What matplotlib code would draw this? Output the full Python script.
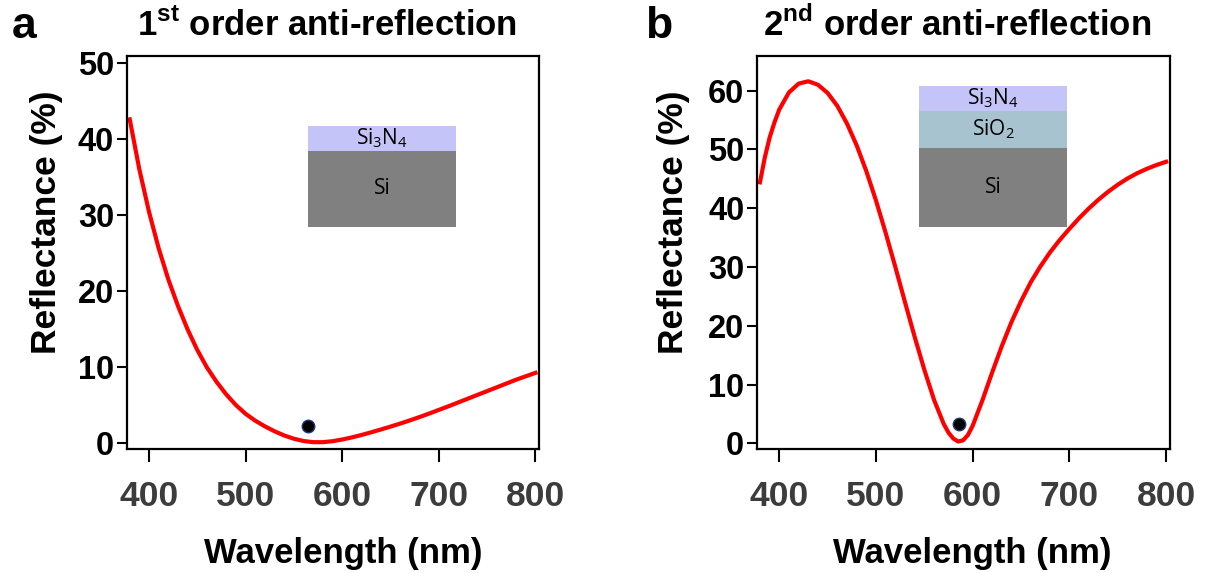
import numpy as np
import matplotlib
matplotlib.use("Agg")
import matplotlib.pyplot as plt
from matplotlib.patches import Rectangle

plt.rcParams['font.family'] = ['Liberation Sans', 'DejaVu Sans']
plt.rcParams['mathtext.fontset'] = 'custom'
plt.rcParams['mathtext.rm'] = 'Open Sans'
plt.rcParams['mathtext.bf'] = 'Liberation Sans:bold'

# panel a: single Si3N4 layer
wl_a = [380, 390, 400, 410, 420, 430, 440, 450, 460, 470, 480, 490, 500,
        510, 520, 530, 540, 550, 560, 570, 580, 590, 600, 610, 620, 630,
        640, 650, 660, 670, 680, 690, 700, 710, 720, 730, 740, 750, 760,
        770, 780, 790, 800]
refl_a = [42.6, 36.0, 30.4, 25.6, 21.5, 18.0, 14.9, 12.2, 9.9, 8.0, 6.35,
          4.95, 3.8, 2.9, 2.15, 1.5, 0.95, 0.52, 0.22, 0.07, 0.07, 0.2,
          0.42, 0.7, 1.02, 1.37, 1.74, 2.12, 2.52, 2.94, 3.38, 3.84, 4.32,
          4.8, 5.3, 5.8, 6.3, 6.8, 7.3, 7.8, 8.3, 8.75, 9.2]
meas_a = (565, 2.2)

# panel b: Si3N4 / SiO2 stack
wl_b = [380, 385, 390, 395, 400, 410, 420, 430, 440, 450, 460, 470, 480,
        490, 500, 510, 520, 530, 540, 550, 560, 570, 575, 580, 585, 590,
        595, 600, 610, 620, 630, 640, 650, 660, 670, 680, 690, 700, 710,
        720, 730, 740, 750, 760, 770, 780, 790, 800]
refl_b = [44.4, 48.6, 52.0, 54.6, 56.8, 59.7, 61.2, 61.6, 61.0, 59.6, 57.4,
          54.4, 50.7, 46.3, 41.3, 35.8, 30.0, 24.0, 18.1, 12.5, 7.4, 3.3,
          1.8, 0.8, 0.3, 0.5, 1.4, 3.0, 7.3, 12.0, 16.5, 20.6, 24.2, 27.4,
          30.1, 32.5, 34.6, 36.5, 38.3, 39.95, 41.45, 42.8, 44.0, 45.05,
          45.95, 46.7, 47.35, 47.9]
meas_b = (586, 3.3)

xticks = [400, 500, 600, 700, 800]
yticks_a = [0, 10, 20, 30, 40, 50]
yticks_b = [0, 10, 20, 30, 40, 50, 60]

fig = plt.figure(figsize=(12.19, 5.73), dpi=100)
ax1 = fig.add_axes([0.1038, 0.2164, 0.3386, 0.6859])
ax2 = fig.add_axes([0.6208, 0.2159, 0.3390, 0.6864])


def style(ax, yticks, ylim):
    ax.set_xlim(376.7, 804)
    ax.set_ylim(*ylim)
    ax.set_xticks(xticks)
    ax.set_yticks(yticks)
    for s in ax.spines.values():
        s.set_linewidth(1.6)
    ax.tick_params(axis='x', direction='out', length=9, width=1.5,
                   pad=13, labelsize=25.5, labelcolor='#3c3c3c')
    ax.tick_params(axis='y', direction='out', length=7, width=1.5,
                   pad=2, labelsize=23.5)
    for lab in ax.get_xticklabels() + ax.get_yticklabels():
        lab.set_fontweight('bold')
    ax.set_xlabel('Wavelength (nm)', fontsize=25, fontweight='bold')
    ax.set_ylabel('Reflectance (%)', fontsize=25.5, fontweight='bold')


style(ax1, yticks_a, (-0.83, 50.95))
style(ax2, yticks_b, (-1.02, 65.9))

ax1.plot(wl_a, refl_a, color='red', lw=3)
ax1.plot(*meas_a, 'o', ms=9, color='black', mec='#1f3b73', mew=1)
ax2.plot(wl_b, refl_b, color='red', lw=3)
ax2.plot(*meas_b, 'o', ms=9, color='black', mec='#1f3b73', mew=1)

ax1.xaxis.set_label_coords(0.524, -0.224)
ax2.xaxis.set_label_coords(0.521, -0.223)
ax1.yaxis.set_label_coords(-0.154, 0.578)
ax2.yaxis.set_label_coords(-0.161, 0.578)

# titles and panel letters
ax1.text(0.486, 1.051, r'1$^{\mathbf{st}}$ order anti-reflection', transform=ax1.transAxes,
         ha='center', va='baseline', fontsize=25, fontweight='bold')
ax2.text(0.485, 1.051, r'2$^{\mathbf{nd}}$ order anti-reflection', transform=ax2.transAxes,
         ha='center', va='baseline', fontsize=25, fontweight='bold')
fig.text(12 / 1219, 1 - 38 / 573, 'a', fontsize=32, fontweight='bold', va='baseline')
fig.text(645 / 1219, 1 - 38 / 573, 'b', fontsize=32, fontweight='bold', va='baseline')

# layer stack insets
c_nit, c_ox, c_si = '#c4c4f8', '#a7c3cf', '#808080'
ax1.add_patch(Rectangle((0.4397, 0.5657), 0.3578, 0.1933, transform=ax1.transAxes, color=c_si, lw=0))
ax1.add_patch(Rectangle((0.4397, 0.759), 0.3578, 0.063, transform=ax1.transAxes, color=c_nit, lw=0))
ax1.text(0.6186, 0.790, r'Si$_\mathrm{3}$N$_\mathrm{4}$', transform=ax1.transAxes,
         ha='center', va='center', fontsize=15, family='Open Sans')
ax1.text(0.6186, 0.662, 'Si', transform=ax1.transAxes,
         ha='center', va='center', fontsize=15, family='Open Sans')

ax2.add_patch(Rectangle((0.3934, 0.566), 0.3581, 0.2008, transform=ax2.transAxes, color=c_si, lw=0))
ax2.add_patch(Rectangle((0.3934, 0.7668), 0.3581, 0.0932, transform=ax2.transAxes, color=c_ox, lw=0))
ax2.add_patch(Rectangle((0.3934, 0.860), 0.3581, 0.0637, transform=ax2.transAxes, color=c_nit, lw=0))
ax2.text(0.5725, 0.892, r'Si$_\mathrm{3}$N$_\mathrm{4}$', transform=ax2.transAxes,
         ha='center', va='center', fontsize=15, family='Open Sans')
ax2.text(0.5725, 0.813, r'SiO$_\mathrm{2}$', transform=ax2.transAxes,
         ha='center', va='center', fontsize=15, family='Open Sans')
ax2.text(0.5725, 0.665, 'Si', transform=ax2.transAxes,
         ha='center', va='center', fontsize=15, family='Open Sans')

fig.savefig('out.png', dpi=100)
